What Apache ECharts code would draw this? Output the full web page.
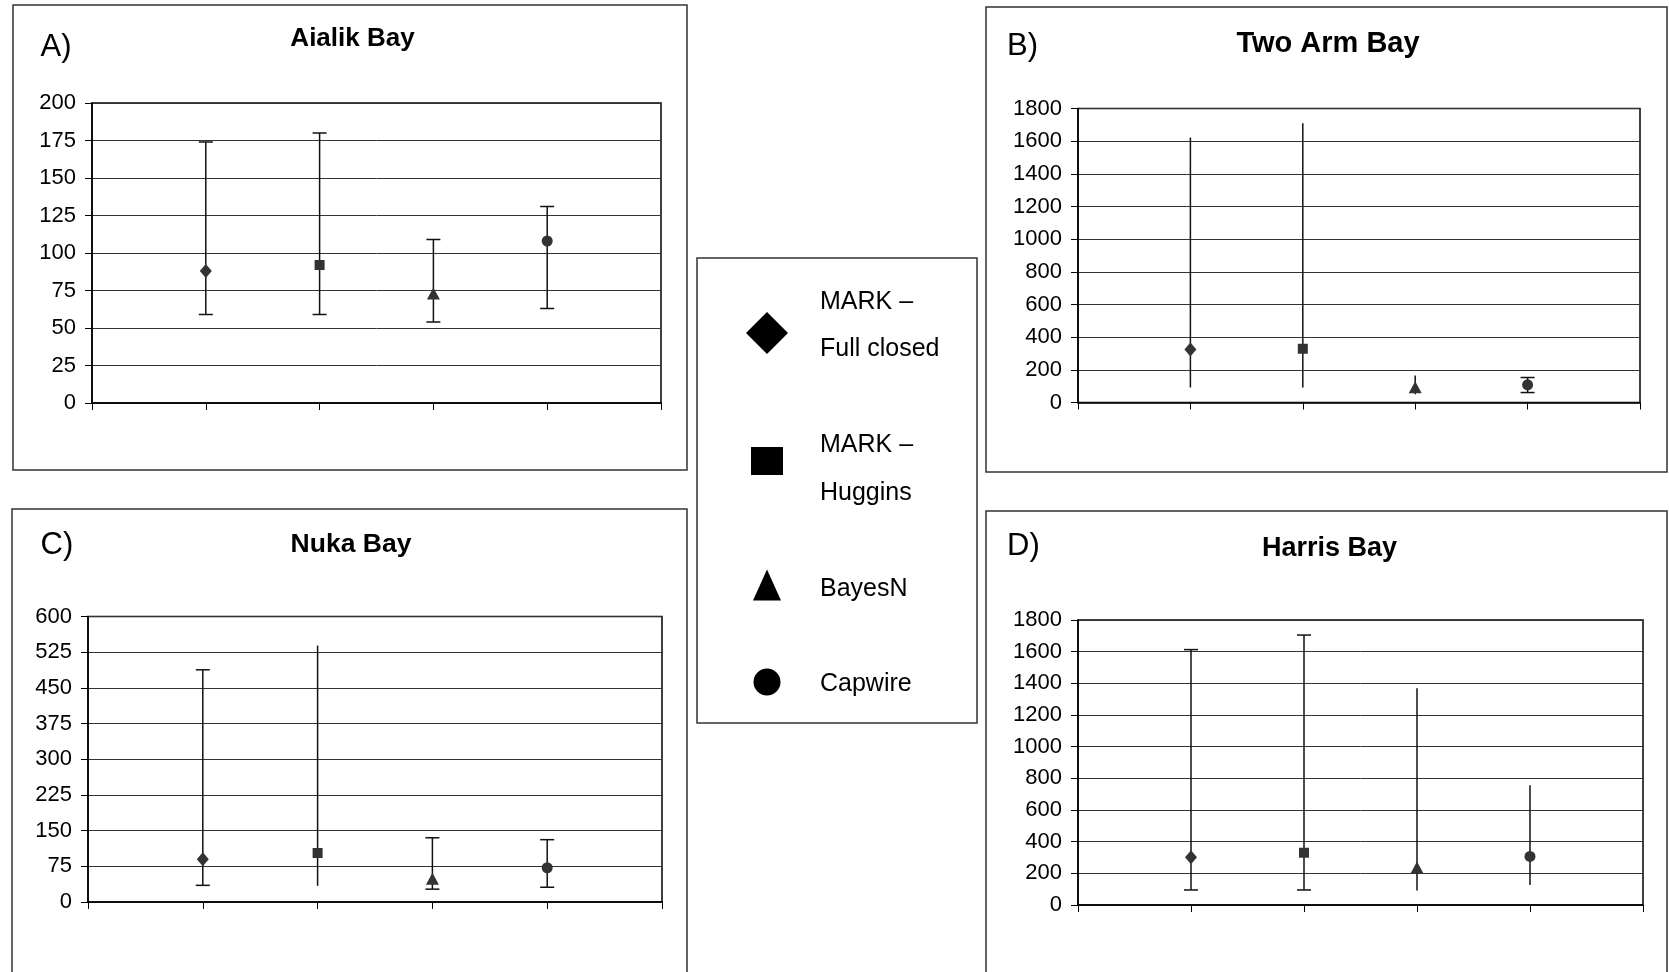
<!DOCTYPE html>
<html><head><meta charset="utf-8">
<script src="https://cdn.jsdelivr.net/npm/echarts@6/dist/echarts.min.js"></script>
<style>html,body{margin:0;padding:0;background:#fff}#c{width:1669px;height:972px}</style>
</head><body><div id="c"></div>
<script>
// ---------- data ----------
const methods = ['MARK – Full closed', 'MARK – Huggins', 'BayesN', 'Capwire'];
const legendLabels = ['MARK –\nFull closed', 'MARK –\nHuggins', 'BayesN', 'Capwire'];
const bays = ['Aialik Bay', 'Two Arm Bay', 'Nuka Bay', 'Harris Bay'];
const panelLetters = ['A)', 'B)', 'C)', 'D)'];
const categoryPositions = [1, 2, 3, 4];

const aialikEstimate = [88, 92, 73, 108];
const aialikLower    = [59, 59, 54, 63];
const aialikUpper    = [174, 180, 109, 131];

const twoArmEstimate = [324, 329, 94, 108];
const twoArmLower    = [92, 92, 51, 61];
const twoArmUpper    = [1622, 1710, 165, 153];

const nukaEstimate = [90, 103, 49, 72];
const nukaLower    = [35, 34, 27, 31];
const nukaUpper    = [488, 539, 135, 131];

const harrisEstimate = [301, 330, 237, 307];
const harrisLower    = [95, 95, 92, 126];
const harrisUpper    = [1613, 1705, 1369, 757];

const aialikTicks = [0, 25, 50, 75, 100, 125, 150, 175, 200];
const twoArmTicks = [0, 200, 400, 600, 800, 1000, 1200, 1400, 1600, 1800];
const nukaTicks   = [0, 75, 150, 225, 300, 375, 450, 525, 600];
const harrisTicks = [0, 200, 400, 600, 800, 1000, 1200, 1400, 1600, 1800];

// ---------- layout / style ----------
const FONT = '"Liberation Sans", Arial, sans-serif';
const symbols = ['diamond', 'rect', 'triangle', 'circle'];
const symbolSizes = [[12, 14], 10, [13, 12], 11];

const panels = [
  { name: bays[0], letter: panelLetters[0], est: aialikEstimate, lo: aialikLower, hi: aialikUpper, ticks: aialikTicks,
    grid: { left: 92, top: 103, width: 569, height: 300 }, frame: [13, 5, 674, 465],
    letterPos: [40.5, 47], titlePos: [352.5, 39], titleSize: 26, caps: [[1,1],[1,1],[1,1],[1,1]] },
  { name: bays[1], letter: panelLetters[1], est: twoArmEstimate, lo: twoArmLower, hi: twoArmUpper, ticks: twoArmTicks,
    grid: { left: 1078, top: 108.5, width: 562, height: 294 }, frame: [986, 7, 681, 465],
    letterPos: [1007, 46], titlePos: [1328, 43.5], titleSize: 29, caps: [[0,0],[0,0],[0,0],[1,1]] },
  { name: bays[2], letter: panelLetters[2], est: nukaEstimate, lo: nukaLower, hi: nukaUpper, ticks: nukaTicks,
    grid: { left: 88, top: 616.5, width: 574, height: 285.5 }, frame: [12, 509, 675, 500],
    letterPos: [40.5, 545], titlePos: [351, 545], titleSize: 26.5, caps: [[1,1],[0,0],[1,1],[1,1]] },
  { name: bays[3], letter: panelLetters[3], est: harrisEstimate, lo: harrisLower, hi: harrisUpper, ticks: harrisTicks,
    grid: { left: 1078, top: 620, width: 565, height: 285 }, frame: [986, 511, 681, 500],
    letterPos: [1007, 546], titlePos: [1329.5, 549], titleSize: 27, caps: [[1,1],[1,1],[0,0],[0,0]] }
];

function renderErrorBar(params, api) {
  const x = api.value(0);
  const lo = api.coord([x, api.value(1)]);
  const hi = api.coord([x, api.value(2)]);
  const cw = 7;
  const st = { stroke: '#111', lineWidth: 1.5 };
  const children = [{ type: 'line', shape: { x1: lo[0], y1: lo[1], x2: hi[0], y2: hi[1] }, style: st }];
  if (api.value(3)) children.push({ type: 'line', shape: { x1: lo[0] - cw, y1: lo[1], x2: lo[0] + cw, y2: lo[1] }, style: st });
  if (api.value(4)) children.push({ type: 'line', shape: { x1: hi[0] - cw, y1: hi[1], x2: hi[0] + cw, y2: hi[1] }, style: st });
  return { type: 'group', children };
}

const grids = [], xAxes = [], yAxes = [], series = [], graphics = [];
panels.forEach((p, gi) => {
  grids.push(Object.assign({ show: true, borderColor: '#000', borderWidth: 1.5, backgroundColor: 'transparent' }, p.grid));
  xAxes.push({
    gridIndex: gi, type: 'value', min: 0, max: categoryPositions.length + 1, interval: 1,
    axisLine: { show: true, onZero: false, lineStyle: { color: '#000', width: 1.5 } },
    axisTick: { show: true, length: 7, lineStyle: { color: '#000', width: 1 } },
    axisLabel: { show: false }, splitLine: { show: false }
  });
  const t = p.ticks;
  yAxes.push({
    gridIndex: gi, type: 'value', min: t[0], max: t[t.length - 1], interval: t[1] - t[0],
    axisLine: { show: true, lineStyle: { color: '#000', width: 1.5 } },
    axisTick: { show: true, length: 7, lineStyle: { color: '#000', width: 1 } },
    axisLabel: { fontSize: 22, color: '#000', fontFamily: FONT, margin: 16, formatter: v => String(v) },
    splitLine: { show: true, lineStyle: { color: '#333', width: 1 } }
  });
  series.push({
    type: 'custom', xAxisIndex: gi, yAxisIndex: gi, renderItem: renderErrorBar, z: 2, silent: true,
    encode: { x: 0, y: [1, 2] },
    data: categoryPositions.map((c, i) => [c, p.lo[i], p.hi[i], p.caps[i][0], p.caps[i][1]])
  });
  methods.forEach((m, i) => {
    series.push({
      type: 'scatter', name: m, xAxisIndex: gi, yAxisIndex: gi, z: 3,
      symbol: symbols[i], symbolSize: symbolSizes[i],
      itemStyle: { color: '#333', opacity: 1 },
      data: [[categoryPositions[i], p.est[i]]]
    });
  });
  graphics.push({ type: 'rect', shape: { x: p.frame[0], y: p.frame[1], width: p.frame[2], height: p.frame[3] },
    style: { fill: 'none', stroke: '#333', lineWidth: 1.5 }, z: -1 });
  graphics.push({ type: 'text', x: p.letterPos[0], y: p.letterPos[1],
    style: { text: p.letter, fontSize: 31, fontFamily: FONT, fill: '#000', align: 'left', verticalAlign: 'middle' } });
  graphics.push({ type: 'text', x: p.titlePos[0], y: p.titlePos[1],
    style: { text: p.name, fontSize: p.titleSize, fontWeight: 'bold', fontFamily: FONT, fill: '#000', align: 'center', verticalAlign: 'middle' } });
});

// legend box
graphics.push({ type: 'rect', shape: { x: 697, y: 258, width: 280, height: 465 },
  style: { fill: 'none', stroke: '#333', lineWidth: 1.5 }, z: -1 });

// legend icons (library legend) + label text
const legendIcon = [[42, 42], [32, 28], [28, 31], [28, 27]];
const legendCenterY = [333, 461, 585, 682];
const legendTextY = [[302.5, 349], [445, 493], [589.5], [684]];
const legends = methods.map((m, i) => {
  const [w, h] = legendIcon[i];
  return {
    data: [{ name: m, icon: symbols[i] }],
    left: 767 - w / 2, top: legendCenterY[i] - h / 2,
    itemWidth: w, itemHeight: h, padding: 0, selectedMode: false,
    formatter: () => '',
    itemStyle: { color: '#000' },
    textStyle: { fontSize: 1 }
  };
});
legendLabels.forEach((lab, i) => {
  lab.split('\n').forEach((line, j) => {
    graphics.push({ type: 'text', x: 820, y: legendTextY[i][j],
      style: { text: line, fontSize: 25, fontFamily: FONT, fill: '#000', align: 'left', verticalAlign: 'middle' } });
  });
});

const chart = echarts.init(document.getElementById('c'), null, { renderer: 'canvas' });
chart.setOption({
  animation: false,
  backgroundColor: '#fff',
  grid: grids, xAxis: xAxes, yAxis: yAxes, series: series,
  legend: legends, graphic: graphics
});
</script></body></html>
